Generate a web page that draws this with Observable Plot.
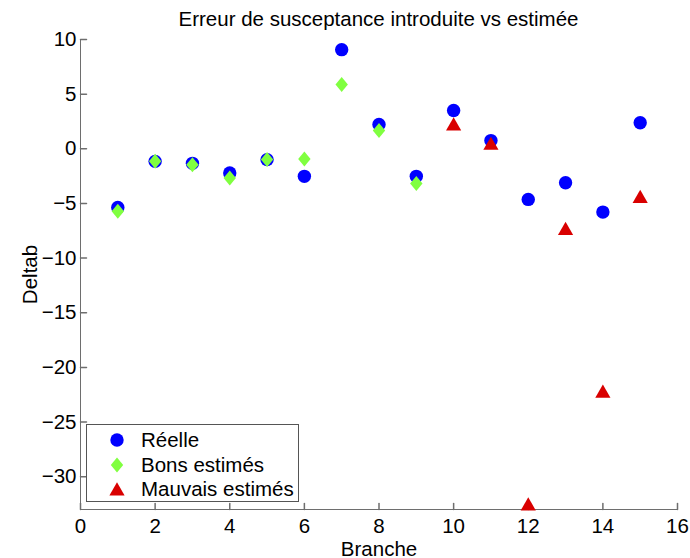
<!DOCTYPE html>
<html><head><meta charset="utf-8">
<script src="https://cdn.jsdelivr.net/npm/d3@7"></script>
<script src="https://cdn.jsdelivr.net/npm/@observablehq/plot@0.6"></script>
<style>
body{margin:0;background:#fff;font-family:"Liberation Sans",Arial,Helvetica,sans-serif;}
#wrap{position:relative;width:690px;height:558px;overflow:hidden;}
#title{position:absolute;left:80px;width:597px;top:0;height:34px;line-height:30px;padding-top:4px;box-sizing:border-box;text-align:center;font-size:20.5px;color:#000;white-space:nowrap;}
#chart{position:absolute;left:0;top:34px;}
#legend{position:absolute;left:86px;top:424px;width:213px;height:78px;border:1px solid #555;background:#fff;box-sizing:border-box;}
.row{position:absolute;left:0;height:24px;width:100%;}
.row svg{position:absolute;left:21px;top:3px;}
.row span{position:absolute;left:54px;top:0;line-height:24px;font-size:20.5px;color:#000;white-space:nowrap;}
</style></head>
<body>
<div id="wrap">
  <div id="title"></div>
  <div id="chart"></div>
  <div id="legend"></div>
</div>
<script>
const titleText = "Erreur de susceptance introduite vs estimée";
const xLabel = "Branche";
const yLabel = "Deltab";
const seriesNames = ["Réelle", "Bons estimés", "Mauvais estimés"];
const seriesColors = ["#0000ff", "#80ff40", "#d90000"];

const reelleX = [1,2,3,4,5,6,7,8,9,10,11,12,13,14,15];
const reelleY = [-5.37,-1.15,-1.33,-2.21,-0.99,-2.52,9.07,2.22,-2.52,3.50,0.75,-4.63,-3.10,-5.79,2.38];
const bonsX = [1,2,3,4,5,6,7,8,9];
const bonsY = [-5.72,-1.15,-1.45,-2.67,-0.99,-0.93,5.89,1.67,-3.17];
const mauvaisX = [10,11,12,13,14,15];
const mauvaisY = [2.28,0.50,-32.5,-7.29,-22.18,-4.36];

const xTicks = [0,2,4,6,8,10,12,14,16];
const yTicks = [-30,-25,-20,-15,-10,-5,0,5,10];
const xDomain = [0,16];
const yDomain = [-33,10];

const axisColor = "#6e6e6e";

const circleSym = {draw(ctx){ ctx.moveTo(6.7,0); ctx.arc(0,0,6.7,0,2*Math.PI); ctx.closePath(); }};
const diamondSym = {draw(ctx){ ctx.moveTo(0,-7.5); ctx.lineTo(6.2,0); ctx.lineTo(0,7.5); ctx.lineTo(-6.2,0); ctx.closePath(); }};
const triangleSym = {draw(ctx){ ctx.moveTo(0,-6.7); ctx.lineTo(7.6,6.5); ctx.lineTo(-7.6,6.5); ctx.closePath(); }};
const tickShape = {draw(ctx, l){ ctx.moveTo(0,0); ctx.lineTo(0,-l); }};

const reelle = reelleX.map((x,i)=>({x, y: reelleY[i]}));
const bons = bonsX.map((x,i)=>({x, y: bonsY[i]}));
const mauvais = mauvaisX.map((x,i)=>({x, y: mauvaisY[i]}));

document.getElementById("title").textContent = titleText;

const chart = Plot.plot({
  width: 690, height: 524,
  marginLeft: 80, marginRight: 13, marginTop: 5, marginBottom: 49,
  style: {fontSize: "20.5px", fontFamily: "Liberation Sans, Arial, Helvetica, sans-serif", color: "#000", background: "white", overflow: "visible"},
  x: {domain: xDomain},
  y: {domain: yDomain},
  marks: [
    Plot.ruleX([xDomain[0]], {stroke: axisColor, strokeWidth: 1}),
    Plot.ruleY([yDomain[0]], {stroke: axisColor, strokeWidth: 1}),
    Plot.vector(yTicks, {x: xDomain[0], y: d=>d, rotate: 90, length: 6, anchor: "start", stroke: axisColor, shape: tickShape}),
    Plot.vector(xTicks, {x: d=>d, y: yDomain[0], rotate: 0, length: 6, anchor: "start", stroke: axisColor, shape: tickShape}),
    Plot.axisX({ticks: xTicks, tickSize: 0, tickPadding: 9, label: xLabel, labelAnchor: "center", labelArrow: "none", labelOffset: 46, fill: "#000"}),
    Plot.axisY({ticks: yTicks, tickSize: 0, tickPadding: 4, label: yLabel, labelAnchor: "center", labelArrow: "none", labelOffset: 58, fill: "#000"}),
    Plot.dot(reelle, {x: "x", y: "y", symbol: circleSym, fill: seriesColors[0]}),
    Plot.dot(bons, {x: "x", y: "y", symbol: diamondSym, fill: seriesColors[1]}),
    Plot.dot(mauvais, {x: "x", y: "y", symbol: triangleSym, fill: seriesColors[2]})
  ]
});
document.getElementById("chart").appendChild(chart);

// legend
const legendPaths = [
  '<circle cx="9" cy="9" r="6.7"/>',
  '<path d="M9,1.5L15.2,9L9,16.5L2.8,9Z"/>',
  '<path d="M9,2.3L16.6,15.5L1.4,15.5Z"/>'
];
const rowTops = [3, 28, 52];
const legend = document.getElementById("legend");
seriesNames.forEach((name,i)=>{
  const row = document.createElement("div");
  row.className = "row";
  row.style.top = rowTops[i] + "px";
  row.innerHTML = `<svg width="18" height="18" fill="${seriesColors[i]}">${legendPaths[i]}</svg><span></span>`;
  row.querySelector("span").textContent = name;
  legend.appendChild(row);
});
</script>
</body></html>
